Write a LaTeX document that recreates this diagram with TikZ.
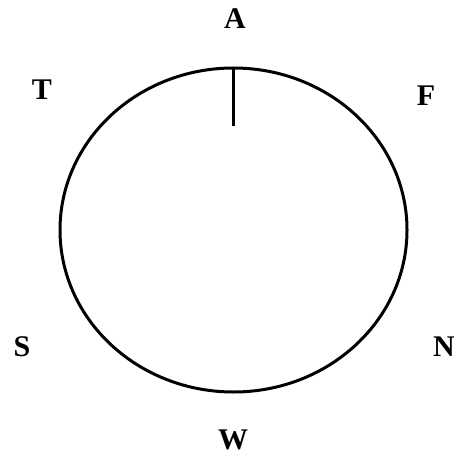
\documentclass[tikz,border=0pt]{standalone}
\usepackage{fontspec}
\setmainfont{Liberation Serif}
\usetikzlibrary{shapes.geometric}
\begin{document}
\begin{tikzpicture}[x=1pt,y=-1pt,
  lbl/.style={font=\fontsize{30}{30}\selectfont\bfseries, inner sep=0pt, anchor=center},
  ln/.style={line width=3pt}]
\useasboundingbox (0,0) rectangle (454,454);
\node[ln, draw, ellipse, minimum width=347pt, minimum height=324pt, inner sep=0pt, outer sep=0pt] (c) at (233.5,230) {};
\coordinate (tt) at (c.north);
\coordinate (tb) at (233.5,126);
\draw[ln] (tt) -- (tb);
\node[lbl] (A) at (235,19) {A};
\node[lbl] (T) at (42,90) {T};
\node[lbl] (F) at (426,95.5) {F};
\node[lbl] (S) at (22,347) {S};
\node[lbl] (N) at (444,347) {N};
\node[lbl] (W) at (233,440) {W};
\end{tikzpicture}
\end{document}
